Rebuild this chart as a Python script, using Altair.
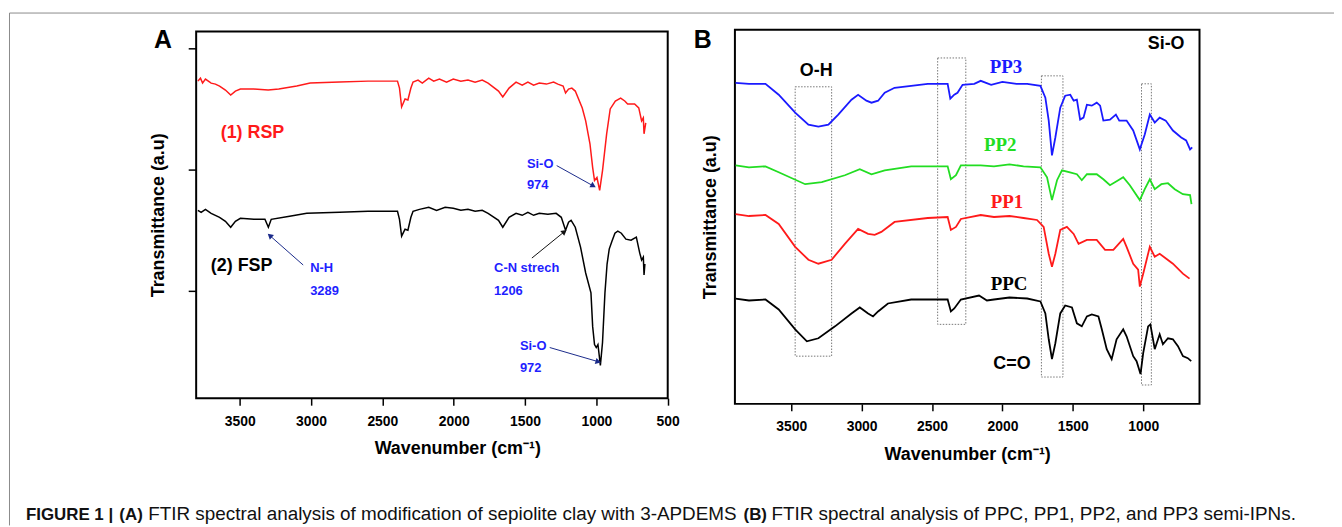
import altair as alt
import pandas as pd

# ---------------- Panel A data (wavenumber in cm-1, transmittance in a.u.) ----------------
rsp_wn = [3793, 3775, 3760, 3740, 3700, 3670, 3641, 3600, 3563, 3530, 3495, 3400, 3300, 3226, 3100, 3006,
          2800, 2600, 2394, 2380, 2365, 2341, 2321, 2300, 2285, 2250, 2220, 2175, 2140, 2100, 2050,
          2003, 1950, 1900, 1850, 1800, 1759, 1686, 1656, 1612, 1563, 1520, 1480, 1440, 1400, 1350,
          1300, 1270, 1233, 1216, 1195, 1172, 1148, 1099, 1075, 1045, 1026, 1013, 996, 977, 957,
          928, 903, 867, 830, 801, 781, 732, 703, 683, 671, 666, 654]
rsp_t = [319, 322, 317, 321, 317, 316, 314, 310, 305, 309, 311, 311, 310, 311, 314, 317,
         318, 319, 319, 312, 293, 301, 300, 312, 318, 320, 317, 322, 319, 321, 318,
         321, 319, 320, 318, 320, 317, 309, 303, 312, 318, 315, 318, 315, 317, 316,
         318, 316, 314, 307, 311, 312, 309, 292, 279, 256, 232, 219, 222, 209, 229,
         266, 291, 299, 302, 299, 296, 296, 292, 279, 282, 266, 277]

fsp_wn = [3793, 3770, 3740, 3700, 3641, 3600, 3563, 3530, 3495, 3400, 3323, 3299, 3279, 3150, 3030,
          2800, 2600, 2394, 2380, 2365, 2341, 2321, 2300, 2285, 2240, 2175, 2120, 2060, 2003, 1950,
          1900, 1850, 1800, 1759, 1686, 1656, 1612, 1563, 1520, 1480, 1440, 1400, 1340, 1282, 1246,
          1216, 1195, 1177, 1148, 1111, 1075, 1038, 1026, 1013, 1001, 989, 972,
          957, 940, 925, 910, 891, 870, 850, 825, 793, 757, 720, 696, 683, 671, 666, 660]
fsp_t = [189, 187, 190, 186, 182, 178, 172, 178, 181, 180, 180, 172, 180, 183, 186,
         187, 188, 188, 180, 163, 170, 169, 182, 188, 190, 192, 189, 192, 191, 189,
         190, 188, 189, 186, 179, 172, 182, 186, 184, 187, 184, 186, 185, 186, 182,
         169, 177, 179, 172, 152, 126, 106, 72, 54, 51, 54, 33,
         56, 106, 135, 150, 158, 166, 168, 166, 160, 159, 162, 146, 139, 142, 124, 135]

# ---------------- Panel B data ----------------
pp3_wn = [3895, 3800, 3683, 3589, 3472, 3378, 3307, 3236, 3166, 3072, 3025, 2966, 2930, 2883, 2836, 2766,
          2530, 2389, 2370, 2342, 2319, 2283, 2200, 2154, 2080, 2000, 1900, 1824, 1730, 1695, 1671, 1648,
          1624, 1589, 1554, 1518, 1494, 1471, 1448, 1424, 1400, 1365, 1330, 1306, 1283, 1236, 1194,
          1170, 1118, 1071, 1024, 989, 953, 918, 883, 840, 789, 730, 695, 667, 652]
pp3_t = [323, 322, 322, 311, 293, 281, 279, 281, 291, 306, 311, 305, 303, 305, 313, 318,
         322, 322, 307, 311, 313, 321, 322, 325, 321, 324, 322, 322, 320, 308, 285, 250,
         268, 298, 310, 311, 305, 306, 286, 288, 301, 300, 303, 300, 285, 286, 291,
         285, 285, 275, 256, 271, 291, 283, 288, 285, 275, 268, 265, 256, 258]

pp2_wn = [3895, 3800, 3683, 3589, 3401, 3283, 3119, 3013, 2930, 2836, 2648, 2389, 2366, 2330, 2295,
          2154, 2060, 1950, 1850, 1730, 1683, 1648, 1612, 1577, 1520, 1471, 1436, 1400, 1330, 1283,
          1236, 1177, 1142, 1095, 1024, 989, 953, 918, 871, 824, 776, 718, 667, 657]
pp2_t = [240, 238, 239, 233, 221, 223, 230, 236, 231, 235, 239, 239, 226, 230, 240,
         240, 239, 241, 239, 238, 228, 205, 225, 235, 233, 231, 225, 231, 231, 226,
         220, 225, 228, 220, 205, 216, 226, 216, 221, 222, 216, 211, 210, 201]

pp1_wn = [3895, 3800, 3683, 3589, 3472, 3378, 3307, 3213, 3119, 3025, 2954, 2907, 2860, 2766, 2530,
          2389, 2366, 2330, 2295, 2154, 2060, 1950, 1850, 1754, 1707, 1671, 1648, 1624, 1589, 1542,
          1494, 1459, 1400, 1330, 1271, 1212, 1142, 1118, 1071, 1036, 1024, 1000, 953, 918, 883,
          836, 789, 718, 671]
pp1_t = [191, 189, 190, 181, 158, 145, 141, 145, 161, 176, 171, 170, 173, 183, 187,
         188, 175, 178, 186, 190, 188, 189, 187, 185, 178, 151, 138, 151, 175, 178,
         171, 161, 165, 165, 155, 155, 166, 158, 141, 135, 118, 131, 158, 148, 151,
         146, 141, 131, 126]

ppc_wn = [3895, 3800, 3683, 3589, 3472, 3389, 3307, 3189, 3072, 3013, 2954, 2919, 2883, 2813, 2648,
          2389, 2366, 2342, 2295, 2166, 2110, 2060, 1950, 1824, 1730, 1695, 1671, 1648, 1624, 1589,
          1554, 1506, 1471, 1436, 1400, 1365, 1318, 1294, 1259, 1224, 1189, 1142, 1118, 1071, 1047,
          1019, 1000, 965, 949, 918, 883, 860, 824, 789, 753, 718, 683, 659]
ppc_t = [106, 104, 105, 95, 75, 63, 66, 78, 91, 97, 91, 88, 93, 101, 105,
         105, 93, 96, 105, 109, 104, 105, 107, 106, 103, 91, 65, 45, 61, 91,
         99, 97, 81, 78, 88, 90, 88, 75, 55, 45, 65, 75, 68, 48, 43,
         30, 51, 78, 80, 55, 70, 60, 66, 65, 58, 48, 46, 43]

# ---------------- annotations ----------------
a_ticks_x = [3500, 3000, 2500, 2000, 1500, 1000, 500]
a_ticks_y = [108, 230, 352]
b_ticks_x = [3500, 3000, 2500, 2000, 1500, 1000]

a_note_text = ["Si-O", "974", "N-H", "3289", "C-N strech", "1206", "Si-O", "972"]
a_note_wn = [1487, 1487, 3006, 3006, 1717, 1717, 1536, 1536]
a_note_t = [236, 214, 131, 108, 131, 108, 52, 30]

a_series_text = ["(1) RSP", "(2) FSP"]
a_series_wn = [3633, 3702]
a_series_t = [267, 133]
a_series_color = ["#ff1a1a", "#000000"]

arrow_wn = [1278, 3055, 1452, 1327]
arrow_t = [234, 134, 141, 51]
arrow_wn2 = [1027, 3284, 1229, 993]
arrow_t2 = [214, 163, 167, 37]
arrow_angle = [119, 311, 51, 106]
arrow_color = ["#1a2a8a", "#1a2a8a", "#111111", "#1a2a8a"]

b_series_text = ["PP3", "PP2", "PP1", "PPC"]
b_series_wn = [1975, 2016, 1968, 1953]
b_series_t = [339, 260, 203, 121]
b_series_color = ["#1a1aff", "#22dd22", "#ff1a1a", "#000000"]

b_band_text = ["O-H", "C=O", "Si-O"]
b_band_wn = [3323, 1932, 837]
b_band_t = [335, 40, 362]

box_wn1 = [3472, 2460, 1723, 1012]
box_wn2 = [3213, 2260, 1570, 942]
box_t1 = [48, 80, 27, 19]
box_t2 = [319, 348, 330, 322]

caption_parts = ["FIGURE 1 |", "(A)", "FTIR spectral analysis of modification of sepiolite clay with 3-APDEMS",
                 "(B)", "FTIR spectral analysis of PPC, PP1, PP2, and PP3 semi-IPNs."]
caption_bold = [True, True, False, True, False]
caption_size = [17, 17, 19, 17, 19]
caption_x = [18, 112, 141, 740, 768]

W, H = 1334, 519
SANS = "Liberation Sans"
SERIF = "Liberation Serif"

# ---------------- scales & axes ----------------
a_xs = alt.Scale(domain=[3805, 500], range=[189.3, 663.7], nice=False, zero=False)
a_ys = alt.Scale(domain=[0, 369], range=[391, 22], nice=False, zero=False)
b_xs = alt.Scale(domain=[3900, 600], range=[731.3, 1198.7], nice=False, zero=False)
b_ys = alt.Scale(domain=[0, 376.4], range=[396.7, 20.3], nice=False, zero=False)


def x_axis(values, offset, title_x):
    return alt.Axis(orient="bottom", offset=offset, values=values, format="d", grid=False, domain=False,
                    labelFont=SANS, labelFontSize=14, labelFontWeight="bold", labelColor="black",
                    labelPadding=9, labelFlush=False, labelOverlap=False,
                    tickColor="black", tickSize=7, tickWidth=1.5,
                    title="Wavenumber (cm\u207b\u00b9)", titleFont=SANS, titleFontSize=18,
                    titleFontWeight="bold", titleColor="black", titlePadding=12, titleX=title_x)


def y_axis(offset, ticks, values, pad):
    kw = dict(orient="left", offset=offset, labels=False, grid=False, domain=False,
              title="Transmittance (a.u)", titleFont=SANS, titleFontSize=18, titleFontWeight="bold",
              titleColor="black", titlePadding=pad)
    if ticks:
        kw.update(values=values, ticks=True, tickSize=8, tickWidth=1.5, tickColor="black")
    else:
        kw.update(ticks=False)
    return alt.Axis(**kw)


a_xa = x_axis(a_ticks_x, 391 - H, 452)
a_ya = y_axis(-189.3, True, a_ticks_y, 20)
b_xa = x_axis(b_ticks_x, 396.7 - H, 965)
b_ya = y_axis(-731.3, False, None, 16)


def AX(field, xs, xa):
    return alt.X(field, type="quantitative", scale=xs, axis=xa)


def AY(field, ys, ya):
    return alt.Y(field, type="quantitative", scale=ys, axis=ya)


def panel_line(wn, t, color, xs, ys, xa, ya, width):
    df = pd.DataFrame({"wn": wn, "t": t})
    return alt.Chart(df).mark_line(color=color, strokeWidth=width).encode(
        x=AX("wn", xs, xa), y=AY("t", ys, ya))


# ---------------- Panel A ----------------
boxA = alt.Chart(pd.DataFrame({"x1": [3805], "x2": [500], "y1": [0], "y2": [369]})).mark_rect(
    fillOpacity=0, stroke="black", strokeWidth=2).encode(
    x=AX("x1", a_xs, a_xa), x2="x2", y=AY("y1", a_ys, a_ya), y2="y2")

notesA = alt.Chart(pd.DataFrame({"wn": a_note_wn, "t": a_note_t, "label": a_note_text})).mark_text(
    align="left", baseline="middle", font=SANS, fontWeight="bold", fontSize=13, color="#1f1fff").encode(
    x=AX("wn", a_xs, a_xa), y=AY("t", a_ys, a_ya), text="label:N")

seriesA = alt.Chart(pd.DataFrame({"wn": a_series_wn, "t": a_series_t, "label": a_series_text,
                                  "c": a_series_color})).mark_text(
    align="left", baseline="middle", font=SANS, fontWeight="bold", fontSize=18).encode(
    x=AX("wn", a_xs, a_xa), y=AY("t", a_ys, a_ya), text="label:N",
    color=alt.Color("c:N", scale=None))

arrow_df = pd.DataFrame({"wn": arrow_wn, "t": arrow_t, "wn2": arrow_wn2, "t2": arrow_t2,
                         "ang": arrow_angle, "c": arrow_color})
arrowLines = alt.Chart(arrow_df).mark_rule(strokeWidth=1).encode(
    x=AX("wn", a_xs, a_xa), y=AY("t", a_ys, a_ya), x2="wn2", y2="t2",
    color=alt.Color("c:N", scale=None))
arrowHeads = alt.Chart(arrow_df).mark_point(shape="triangle", filled=True, size=40, opacity=1).encode(
    x=AX("wn2", a_xs, a_xa), y=AY("t2", a_ys, a_ya), angle=alt.Angle("ang:Q", scale=None),
    color=alt.Color("c:N", scale=None))

panelA = alt.layer(
    boxA,
    panel_line(rsp_wn, rsp_t, "#ff1a1a", a_xs, a_ys, a_xa, a_ya, 1.5),
    panel_line(fsp_wn, fsp_t, "#000000", a_xs, a_ys, a_xa, a_ya, 1.5),
    arrowLines, arrowHeads, notesA, seriesA,
)

# ---------------- Panel B ----------------
boxB = alt.Chart(pd.DataFrame({"x1": [3900], "x2": [600], "y1": [0], "y2": [376.4]})).mark_rect(
    fillOpacity=0, stroke="black", strokeWidth=2).encode(
    x=AX("x1", b_xs, b_xa), x2="x2", y=AY("y1", b_ys, b_ya), y2="y2")

dotted = alt.Chart(pd.DataFrame({"x1": box_wn1, "x2": box_wn2, "y1": box_t1, "y2": box_t2})).mark_rect(
    fillOpacity=0, stroke="#777777", strokeWidth=1, strokeDash=[1.5, 1.5]).encode(
    x=AX("x1", b_xs, b_xa), x2="x2", y=AY("y1", b_ys, b_ya), y2="y2")

seriesB = alt.Chart(pd.DataFrame({"wn": b_series_wn, "t": b_series_t, "label": b_series_text,
                                  "c": b_series_color})).mark_text(
    align="center", baseline="middle", font=SERIF, fontWeight="bold", fontSize=19).encode(
    x=AX("wn", b_xs, b_xa), y=AY("t", b_ys, b_ya), text="label:N",
    color=alt.Color("c:N", scale=None))

bandsB = alt.Chart(pd.DataFrame({"wn": b_band_wn, "t": b_band_t, "label": b_band_text})).mark_text(
    align="center", baseline="middle", font=SANS, fontWeight="bold", fontSize=18, color="black").encode(
    x=AX("wn", b_xs, b_xa), y=AY("t", b_ys, b_ya), text="label:N")

panelB = alt.layer(
    boxB, dotted,
    panel_line(ppc_wn, ppc_t, "#000000", b_xs, b_ys, b_xa, b_ya, 1.8),
    panel_line(pp1_wn, pp1_t, "#ff1a1a", b_xs, b_ys, b_xa, b_ya, 1.8),
    panel_line(pp2_wn, pp2_t, "#22dd22", b_xs, b_ys, b_xa, b_ya, 1.8),
    panel_line(pp3_wn, pp3_t, "#1a1aff", b_xs, b_ys, b_xa, b_ya, 1.8),
    seriesB, bandsB,
)

# ---------------- frame, panel letters, caption ----------------
one = pd.DataFrame({"k": [0]})
frame_left = alt.Chart(one).mark_rule(color="#8a8a8a", strokeWidth=1).encode(
    x=alt.value(1.5), y=alt.value(3.5), y2=alt.value(H))
frame_top = alt.Chart(one).mark_rule(color="#8a8a8a", strokeWidth=1).encode(
    x=alt.value(1.5), x2=alt.value(W), y=alt.value(3.5))

panel_letters = ["A", "B"]
letter_x = [156, 699]
letter_y = [31, 31]
letters = [alt.Chart(pd.DataFrame({"s": [panel_letters[i]]})).mark_text(
    font=SANS, fontWeight="bold", fontSize=25, align="center", baseline="middle", color="black").encode(
    text="s:N", x=alt.value(letter_x[i]), y=alt.value(letter_y[i])) for i in range(2)]

caption = [alt.Chart(pd.DataFrame({"s": [caption_parts[i]]})).mark_text(
    font=SANS, fontWeight="bold" if caption_bold[i] else "normal",
    fontSize=caption_size[i], align="left", baseline="alphabetic", color="#111111").encode(
    text="s:N", x=alt.value(caption_x[i]), y=alt.value(513.5)) for i in range(len(caption_parts))]

chart = alt.layer(frame_left, frame_top, panelA, panelB, *letters, *caption).resolve_scale(
    x="independent", y="independent", color="independent"
).properties(
    width=W, height=H, autosize=alt.AutoSizeParams(type="none"), padding=0
).configure_view(strokeOpacity=0)

chart.save("out.html", embed_options={"renderer": "svg", "actions": False})
